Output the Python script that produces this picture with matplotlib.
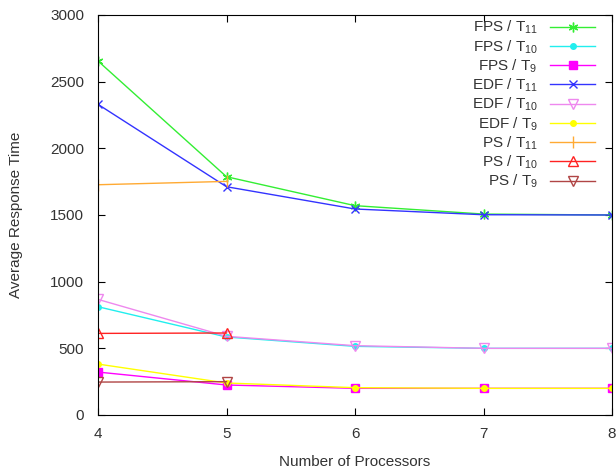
import matplotlib
matplotlib.use("Agg")
import matplotlib.pyplot as plt

procs = [4, 5, 6, 7, 8]
procs_ps = [4, 5]

fps_t11 = [2655, 1787, 1570, 1507, 1500]
fps_t10 = [812, 585, 515, 500, 500]
fps_t9 = [322, 225, 200, 200, 200]
edf_t11 = [2330, 1712, 1545, 1502, 1500]
edf_t10 = [867, 590, 520, 500, 500]
edf_t9 = [382, 240, 205, 200, 200]
ps_t11 = [1727, 1752]
ps_t10 = [612, 615]
ps_t9 = [247, 250]

plt.rcParams['font.family'] = ['Liberation Sans', 'DejaVu Sans']
plt.rcParams['mathtext.fontset'] = 'custom'
plt.rcParams['mathtext.rm'] = 'Liberation Sans'
plt.rcParams['mathtext.it'] = 'Liberation Sans'
plt.rcParams['mathtext.default'] = 'rm'

fig = plt.figure(figsize=(6.16, 4.70), dpi=100)
ax = fig.add_axes([98/616, 55/470, 514/616, 400/470])

txt = '#333333'
ax.plot(procs, fps_t11, color='#33ee33', marker=(6, 2, 0), ms=7, lw=1, label='FPS / T$_{11}$')
ax.plot(procs, fps_t10, color='#22eeee', marker='o', ms=4, lw=1, label='FPS / T$_{10}$')
ax.plot(procs, fps_t9, color='#ff00ff', marker='s', ms=6, lw=1, label='FPS / T$_{9}$')
ax.plot(procs, edf_t11, color='#3333ff', marker='x', ms=6, lw=1, label='EDF / T$_{11}$')
ax.plot(procs, edf_t10, color='#ee88ee', marker='v', ms=7, mfc='none', lw=1, label='EDF / T$_{10}$')
ax.plot(procs, edf_t9, color='#ffff00', marker='o', ms=4, lw=1, label='EDF / T$_{9}$')
ax.plot(procs_ps, ps_t11, color='#ffaa33', marker='|', ms=8, lw=1, label='PS / T$_{11}$')
ax.plot(procs_ps, ps_t10, color='#ff2222', marker='^', ms=7, mfc='none', lw=1, label='PS / T$_{10}$')
ax.plot(procs_ps, ps_t9, color='#b04545', marker='v', ms=7, mfc='none', lw=1, label='PS / T$_{9}$')

ax.set_xlim(4, 8)
ax.set_ylim(0, 3000)
ax.set_xticks(procs)
ax.set_yticks(range(0, 3001, 500))
ax.tick_params(direction='in', top=True, right=True, length=5, labelsize=11,
               colors='black', labelcolor=txt)
ax.tick_params(axis='y', pad=10)
ax.tick_params(axis='x', pad=9)
ax.set_xlabel('Number of Processors', fontsize=11, color=txt)
ax.set_ylabel('Average Response Time', fontsize=11, color=txt)
ax.xaxis.set_label_coords(0.5, -0.1)
ax.yaxis.set_label_coords(-0.146, 0.5)

leg = ax.legend(loc='upper right', bbox_to_anchor=(0.967, 0.99), borderpad=0, borderaxespad=0,
                frameon=False, markerfirst=False, fontsize=11, handlelength=2.95,
                labelspacing=0.12, handletextpad=0.8)
for t in leg.get_texts():
    t.set_color(txt)
    t.set_ha('right')

fig.savefig('out.png', dpi=100)
